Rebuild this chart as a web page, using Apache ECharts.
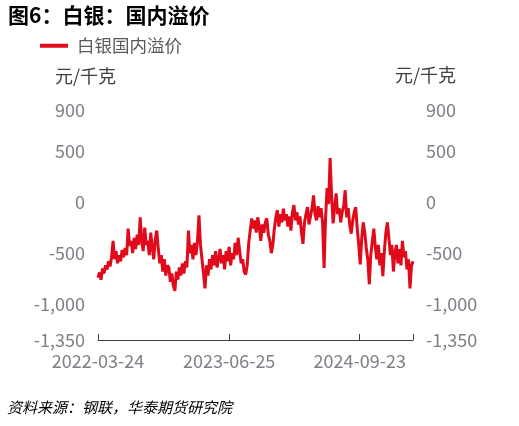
<!DOCTYPE html>
<html>
<head>
<meta charset="utf-8">
<script src="https://cdn.jsdelivr.net/npm/echarts@6/dist/echarts.min.js"></script>
<style>
html,body{margin:0;padding:0;background:#fff;}
#main{width:519px;height:426px;}
</style>
</head>
<body>
<div id="main"></div>
<script>
var titleText = '图6：白银：国内溢价';
var seriesName = '白银国内溢价';
var unitText = '元/千克';
var sourceText = '资料来源：钢联，华泰期货研究院';
var startDate = '2022-03-24';
var endDate = '2025-03-28';
var xTickLabels = ['2022-03-24', '2023-06-25', '2024-09-23'];
var yTickValues = [900, 500, 0, -500, -1000, -1350];
var values = [
-740,-690,-760,-650,-700,-620,-660,-580,-630,-540,
-380,-560,-480,-600,-520,-580,-470,-540,-450,-520,
-260,-430,-380,-500,-350,-460,-320,-420,-150,-380,
-480,-250,-420,-380,-520,-300,-450,-560,-360,-280,
-460,-600,-520,-680,-560,-720,-620,-640,-780,-700,
-820,-870,-680,-760,-640,-720,-600,-700,-580,-640,
-280,-500,-420,-560,-400,-520,-380,-130,-420,-560,
-700,-845,-620,-720,-560,-660,-520,-620,-480,-640,
-560,-460,-600,-520,-660,-480,-580,-440,-620,-500,
-560,-400,-520,-350,-480,-600,-560,-680,-710,-620,
-400,-280,-160,-260,-180,-300,-150,-240,-380,-220,
-300,-200,-160,-320,-380,-500,-420,-260,-150,-80,
-240,-120,-200,-65,-180,-120,-240,-140,-280,-100,
-30,-180,-100,-220,-140,-300,-410,-200,-120,-50,
-220,-140,-60,65,-120,-180,-40,-150,-60,-200,
-645,-150,135,-20,430,60,-210,-60,85,-120,
-60,-200,-100,-40,115,-150,-60,-220,-310,-180,
-100,-50,-260,-420,-610,-350,-200,-300,-450,-560,
-805,-520,-380,-260,-440,-560,-420,-620,-500,-725,
-480,-300,-200,-350,-520,-420,-680,-500,-420,-600,
-460,-620,-380,-540,-480,-660,-560,-845,-620,-580
];

var FONT = '"Noto Sans CJK SC", "Noto Sans", sans-serif';
var chart = echarts.init(document.getElementById('main'));
function toTime(s) {
  var p = s.split('-');
  return Date.UTC(+p[0], +p[1] - 1, +p[2]);
}
function fmtDate(t) {
  var d = new Date(t);
  var m = d.getUTCMonth() + 1, dd = d.getUTCDate();
  return d.getUTCFullYear() + '-' + (m < 10 ? '0' : '') + m + '-' + (dd < 10 ? '0' : '') + dd;
}
var t0 = toTime(startDate);
var t1 = toTime(endDate);
var data = values.map(function (v, i) {
  return [t0 + (t1 - t0) * i / (values.length - 1), v];
});
function fmtNum(v) {
  return echarts.format.addCommas(v);
}
var yAxisBase = {
  type: 'value',
  min: -1350,
  max: 900,
  splitLine: { show: false },
  axisLine: { show: false },
  axisTick: { show: false },
  axisLabel: {
    customValues: yTickValues,
    formatter: fmtNum,
    color: '#7f7f88',
    fontSize: 18,
    margin: 13,
    fontFamily: FONT
  }
};
var option = {
  backgroundColor: '#fff',
  animation: false,
  textStyle: { fontFamily: FONT },
  grid: { left: 98, right: 106, top: 110, bottom: 86, containLabel: false },
  legend: {
    show: true,
    left: 40,
    top: 37,
    padding: 0,
    icon: 'rect',
    itemWidth: 28,
    itemHeight: 4,
    textStyle: { color: '#595959', fontSize: 17.5, fontFamily: FONT, padding: [0, 0, 0, 4] },
    data: [seriesName]
  },
  graphic: [
    { type: 'text', left: 8, top: 5, style: { text: titleText, font: 'bold 21px ' + FONT, fill: '#000' } },
    { type: 'text', left: 55, top: 67, style: { text: unitText, font: '18px ' + FONT, fill: '#404040' } },
    { type: 'text', left: 395, top: 66, style: { text: unitText, font: '18px ' + FONT, fill: '#404040' } },
    { type: 'text', left: 7, top: 400, style: { text: sourceText, font: 'italic 15px ' + FONT, fill: '#000' } }
  ],
  xAxis: {
    type: 'value',
    min: t0,
    max: t1,
    splitLine: { show: false },
    axisLine: { show: true, onZero: false, lineStyle: { color: '#404040', width: 1 } },
    axisTick: {
      show: true,
      inside: true,
      length: 6,
      customValues: [t0].concat(xTickLabels.slice(1).map(toTime), [t1]),
      lineStyle: { color: '#404040' }
    },
    axisLabel: {
      customValues: xTickLabels.map(toTime),
      formatter: fmtDate,
      color: '#7f7f88',
      fontSize: 18,
      margin: 12,
      fontFamily: FONT
    }
  },
  yAxis: [
    Object.assign({}, yAxisBase, { position: 'left' }),
    Object.assign({}, yAxisBase, { position: 'right' })
  ],
  series: [{
    name: seriesName,
    type: 'line',
    data: data,
    showSymbol: false,
    symbol: 'none',
    lineStyle: { color: '#e00a1a', width: 3 },
    itemStyle: { color: '#e00a1a' }
  }]
};
chart.setOption(option);
</script>
</body>
</html>
